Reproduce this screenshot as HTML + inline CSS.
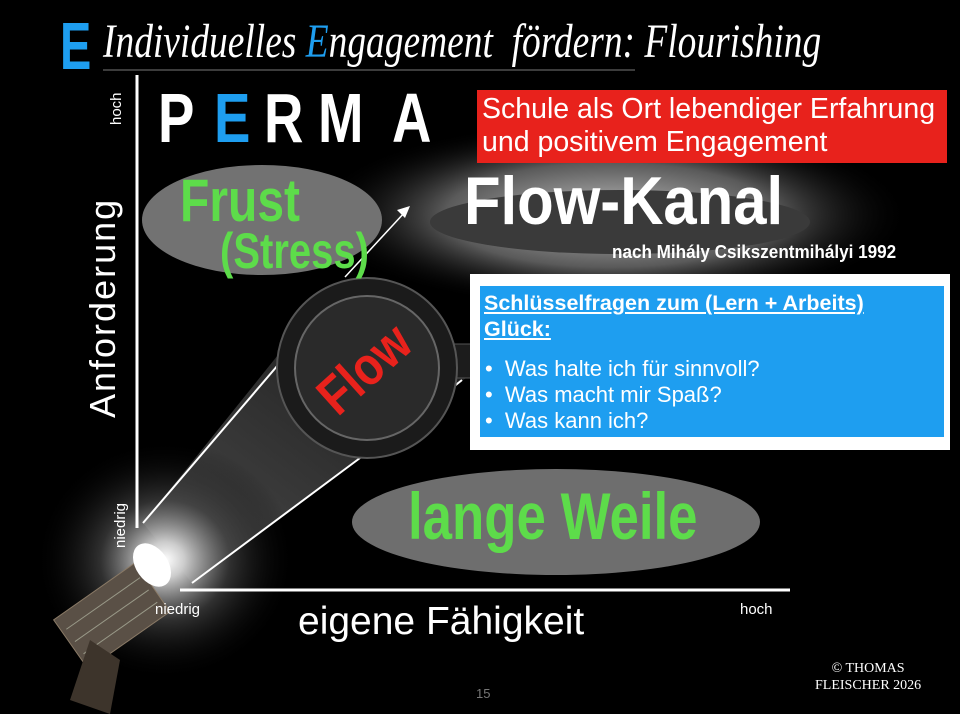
<!DOCTYPE html>
<html><head><meta charset="utf-8">
<style>
html,body{margin:0;padding:0;background:#000;}
#c{position:relative;width:960px;height:714px;overflow:hidden;background:#000;font-family:"Liberation Sans",sans-serif;}
.a{position:absolute;white-space:nowrap;}
.p{position:absolute;top:78px;font:900 70px 'Liberation Sans';color:#fff;transform:scaleX(0.78);transform-origin:left;}
</style></head><body><div id="c">
<svg width="960" height="714" style="position:absolute;left:0;top:0">
<defs>
<radialGradient id="glow" cx="0.5" cy="0.5" r="0.5">
<stop offset="0" stop-color="#bdbdbd"/><stop offset="0.55" stop-color="#5a5a5a"/><stop offset="1" stop-color="#000" stop-opacity="0"/></radialGradient>
<radialGradient id="lglow" cx="0.5" cy="0.5" r="0.5">
<stop offset="0" stop-color="#fff"/><stop offset="0.15" stop-color="#ccc"/><stop offset="0.5" stop-color="#444" stop-opacity="0.7"/><stop offset="1" stop-color="#000" stop-opacity="0"/></radialGradient>
<linearGradient id="beam" x1="0" y1="1" x2="1" y2="0">
<stop offset="0" stop-color="#5a5a5a"/><stop offset="1" stop-color="#1e1e1e"/></linearGradient>
</defs>
<ellipse cx="610" cy="215" rx="300" ry="95" fill="url(#glow)"/>
<polygon points="143,523 290,340 470,375 192,583" fill="url(#beam)" opacity="0.85"/>
<ellipse cx="165" cy="560" rx="130" ry="120" fill="url(#lglow)"/>
<line x1="143" y1="523" x2="278" y2="365" stroke="#fff" stroke-width="2"/>
<line x1="192" y1="583" x2="360" y2="458" stroke="#fff" stroke-width="2"/>
<line x1="392" y1="436" x2="462" y2="380" stroke="#fff" stroke-width="2"/>
<ellipse cx="262" cy="220" rx="120" ry="55" fill="#727272"/>
<ellipse cx="620" cy="222" rx="190" ry="32" fill="#3a3a3a"/>
<ellipse cx="556" cy="522" rx="204" ry="53" fill="#6e6e6e"/>
<line x1="345" y1="277" x2="405" y2="212" stroke="#fff" stroke-width="1.5"/>
<polygon points="410,206 397,210 405,218" fill="#fff"/>
<rect x="445" y="344" width="30" height="34" fill="#1c1c1c" stroke="#555"/>
<circle cx="367" cy="368" r="90" fill="#1b1b1b" stroke="#555" stroke-width="2"/>
<circle cx="367" cy="368" r="72" fill="#2a2a2a" stroke="#666" stroke-width="2"/>
<line x1="137" y1="75" x2="137" y2="528" stroke="#fff" stroke-width="3"/>
<line x1="180" y1="590" x2="790" y2="590" stroke="#fff" stroke-width="3"/>
<g transform="rotate(-35 120 610)">
<rect x="60" y="580" width="100" height="60" fill="#5a5046" stroke="#8a7a66"/>
<line x1="65" y1="595" x2="155" y2="595" stroke="#998"/>
<line x1="65" y1="610" x2="155" y2="610" stroke="#998"/>
<line x1="65" y1="625" x2="155" y2="625" stroke="#998"/>
</g>
<path d="M70,700 L90,640 L120,660 L110,714 Z" fill="#3d342b"/>
<ellipse cx="152" cy="565" rx="16" ry="24" transform="rotate(-35 152 565)" fill="#fff"/>
<line x1="103" y1="70" x2="635" y2="70" stroke="#777" stroke-width="1"/>
</svg>
<div class="a" style="left:60px;top:8px;font:900 67px 'Liberation Sans';color:#1e9ef0;transform:scaleX(0.7);transform-origin:left;">E</div>
<div class="a" style="left:103px;top:14px;font:italic 48px 'Liberation Serif';color:#fff;transform:scaleX(0.78);transform-origin:left;">Individuelles <span style="color:#1e9ef0">E</span>ngagement&nbsp; fördern: Flourishing</div>
<div class="p" style="left:158px;">P</div>
<div class="p" style="left:214px;color:#1e9ef0;">E</div>
<div class="p" style="left:264px;">R</div>
<div class="p" style="left:318px;">M</div>
<div class="p" style="left:392px;">A</div>
<div class="a" style="left:477px;top:90px;width:470px;height:73px;background:#e8221c;color:#fff;font-size:28.5px;line-height:33px;padding:3px 0 0 5px;box-sizing:border-box;">Schule als Ort lebendiger Erfahrung<br>und positivem Engagement</div>
<div class="a" style="left:108px;top:125px;transform:rotate(-90deg);transform-origin:left top;color:#fff;font-size:15px;">hoch</div>
<div class="a" style="left:82px;top:418px;transform:rotate(-90deg);transform-origin:left top;color:#fff;font-size:36px;letter-spacing:2px;">Anforderung</div>
<div class="a" style="left:112px;top:548px;transform:rotate(-90deg);transform-origin:left top;color:#fff;font-size:15px;">niedrig</div>
<div class="a" style="left:180px;top:166px;font:bold 60px 'Liberation Sans';color:#5ddc4a;transform:scaleX(0.8);transform-origin:left;">Frust</div>
<div class="a" style="left:220px;top:222px;font:bold 50px 'Liberation Sans';color:#5ddc4a;transform:scaleX(0.8);transform-origin:left;">(Stress)</div>
<div class="a" style="left:464px;top:162px;font:bold 68px 'Liberation Sans';color:#fff;transform:scaleX(0.88);transform-origin:left;">Flow-Kanal</div>
<div class="a" style="left:612px;top:242px;font:bold 18px 'Liberation Sans';color:#fff;transform:scaleX(0.95);transform-origin:left;">nach Mihály Csikszentmihályi 1992</div>
<div class="a" style="left:303px;top:338px;font:bold 54px 'Liberation Sans';color:#e8221c;transform:rotate(-42deg) scaleX(0.85);">Flow</div>
<div class="a" style="left:470px;top:274px;width:480px;height:176px;background:#fff;"></div>
<div class="a" style="left:480px;top:286px;width:464px;height:151px;background:#1e9ef0;color:#fff;">
<div style="position:absolute;left:4px;top:4px;font:bold 21.5px 'Liberation Sans';text-decoration:underline;line-height:26px;">Schlüsselfragen zum (Lern + Arbeits)<br>Glück:</div>
<div style="position:absolute;left:5px;top:70px;font-size:22px;line-height:26px;">•&nbsp;&nbsp;Was halte ich für sinnvoll?<br>•&nbsp;&nbsp;Was macht mir Spaß?<br>•&nbsp;&nbsp;Was kann ich?</div>
</div>
<div class="a" style="left:408px;top:478px;font:bold 66px 'Liberation Sans';color:#5ddc4a;transform:scaleX(0.8);transform-origin:left;">lange Weile</div>
<div class="a" style="left:155px;top:601px;color:#fff;font-size:15px;">niedrig</div>
<div class="a" style="left:740px;top:601px;color:#fff;font-size:15px;">hoch</div>
<div class="a" style="left:298px;top:600px;color:#fff;font-size:39px;">eigene Fähigkeit</div>
<div class="a" style="left:815px;top:660px;color:#fff;font:14px 'Liberation Serif';line-height:17px;text-align:center;">© THOMAS<br>FLEISCHER 2026</div>
<div class="a" style="left:476px;top:686px;color:#777;font-size:13px;">15</div>
</div></body></html>
